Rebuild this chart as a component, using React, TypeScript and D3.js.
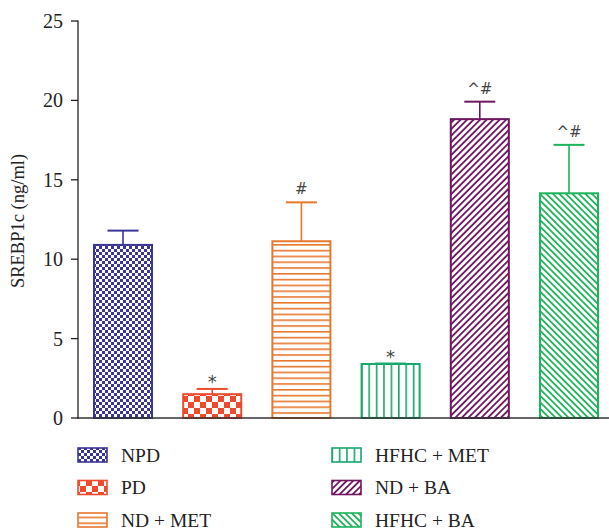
import React from "react";
import * as d3 from "d3";

const categories = ["NPD", "PD", "ND + MET", "HFHC + MET", "ND + BA", "HFHC + BA"];
const means = [10.9, 1.5, 11.13, 3.4, 18.82, 14.15];
const errors = [0.9, 0.33, 2.45, 0.03, 1.1, 3.05];
const marks = ["", "*", "#", "*", "^#", "^#"];
const colors = ["#3a3597", "#ee4a2d", "#e8772e", "#17a86b", "#6e1660", "#1fb35a"];
const yTicks = [0, 5, 10, 15, 20, 25];

const W = 609;
const H = 532;
const FONT = "'Liberation Serif', 'DejaVu Serif', serif";

export default function App() {
  const y = d3.scaleLinear().domain([0, 25]).range([418, 21]);
  const x = d3
    .scaleBand<string>()
    .domain(categories)
    .range([78, 614])
    .paddingInner(0.327)
    .paddingOuter(0.168);

  const patId = (i: number) => `pat${i}`;

  const patterns = [
    <pattern key="p0" id={patId(0)} patternUnits="userSpaceOnUse" width={6} height={6} x={93} y={0}>
      <rect width={6} height={6} fill="#fff" />
      <rect width={3} height={3} fill={colors[0]} />
      <rect x={3} y={3} width={3} height={3} fill={colors[0]} />
    </pattern>,
    <pattern key="p1" id={patId(1)} patternUnits="userSpaceOnUse" width={12} height={12} x={182} y={0}>
      <rect width={12} height={12} fill="#fff" />
      <rect width={6} height={6} fill={colors[1]} />
      <rect x={6} y={6} width={6} height={6} fill={colors[1]} />
    </pattern>,
    <pattern key="p2" id={patId(2)} patternUnits="userSpaceOnUse" width={10} height={5.8} x={0} y={418}>
      <rect width={10} height={5.8} fill="#fff" />
      <rect y={0} width={10} height={1.6} fill={colors[2]} />
    </pattern>,
    <pattern key="p3" id={patId(3)} patternUnits="userSpaceOnUse" width={7.4} height={10} x={361} y={0}>
      <rect width={7.4} height={10} fill="#fff" />
      <rect x={0} width={1.6} height={10} fill={colors[3]} />
    </pattern>,
    <pattern key="p4" id={patId(4)} patternUnits="userSpaceOnUse" width={4.6} height={4.6} patternTransform="rotate(45)">
      <rect width={4.6} height={4.6} fill="#fff" />
      <rect x={0} width={1.8} height={4.6} fill={colors[4]} />
    </pattern>,
    <pattern key="p5" id={patId(5)} patternUnits="userSpaceOnUse" width={4.6} height={4.6} patternTransform="rotate(-45)">
      <rect width={4.6} height={4.6} fill="#fff" />
      <rect x={0} width={1.8} height={4.6} fill={colors[5]} />
    </pattern>,
  ];

  const legendLeft = [0, 1, 2];
  const legendRight = [3, 4, 5];
  const rowY = [455, 487.5, 520];

  return (
    <svg width={W} height={H} style={{ display: "block", position: "absolute", left: 0, top: 0 }} fontFamily={FONT}>
      <defs>{patterns}</defs>
      <rect width={W} height={H} fill="#fff" />

      {categories.map((c, i) => {
        const x0 = x(c)!;
        const bw = x.bandwidth();
        const cx = x0 + bw / 2;
        const yTop = y(means[i]);
        const yErr = y(means[i] + errors[i]);
        return (
          <g key={c}>
            <line x1={cx} x2={cx} y1={yTop} y2={yErr} stroke={colors[i]} strokeWidth={1.6} />
            <line x1={cx - 15.5} x2={cx + 15.5} y1={yErr} y2={yErr} stroke={colors[i]} strokeWidth={2} />
            <rect
              x={x0 + 1}
              y={yTop}
              width={bw - 2}
              height={y(0) - yTop}
              fill={`url(#${patId(i)})`}
              stroke={colors[i]}
              strokeWidth={2}
            />
            {marks[i] && (
              <text
                x={cx}
                y={yErr - (marks[i] === "*" ? 1 : 8)}
                textAnchor="middle"
                fontSize={marks[i] === "*" ? 18 : 15}
                fill="#444"
                fontFamily="'DejaVu Sans', sans-serif"
              >
                {marks[i]}
              </text>
            )}
          </g>
        );
      })}

      <line x1={78} x2={78} y1={y(25) - 0.5} y2={y(0) + 1} stroke="#222" strokeWidth={1.3} />
      <line x1={77.5} x2={609} y1={y(0)} y2={y(0)} stroke="#333" strokeWidth={1.3} />
      {yTicks.map((t) => (
        <g key={t}>
          <line x1={71} x2={78} y1={y(t)} y2={y(t)} stroke="#222" strokeWidth={1.3} />
          <text x={63} y={y(t)} dy="0.35em" textAnchor="end" fontSize={20} fill="#222">
            {t}
          </text>
        </g>
      ))}
      <text
        transform={`translate(20,${221}) rotate(-90)`}
        textAnchor="middle"
        dominantBaseline="middle"
        fontSize={18.5}
        fill="#222"
      >
        SREBP1c (ng/ml)
      </text>

      {[legendLeft, legendRight].map((col, ci) =>
        col.map((i, ri) => {
          const sx = ci === 0 ? 78 : 332;
          const tx = ci === 0 ? 121 : 375;
          const cy = rowY[ri];
          return (
            <g key={`lg${i}`}>
              <rect
                x={sx}
                y={cy - 7}
                width={29}
                height={14}
                fill={`url(#${patId(i)})`}
                stroke={colors[i]}
                strokeWidth={1.6}
              />
              <text x={tx} y={cy} dy="0.35em" fontSize={19.5} fill="#222">
                {categories[i]}
              </text>
            </g>
          );
        })
      )}
    </svg>
  );
}
